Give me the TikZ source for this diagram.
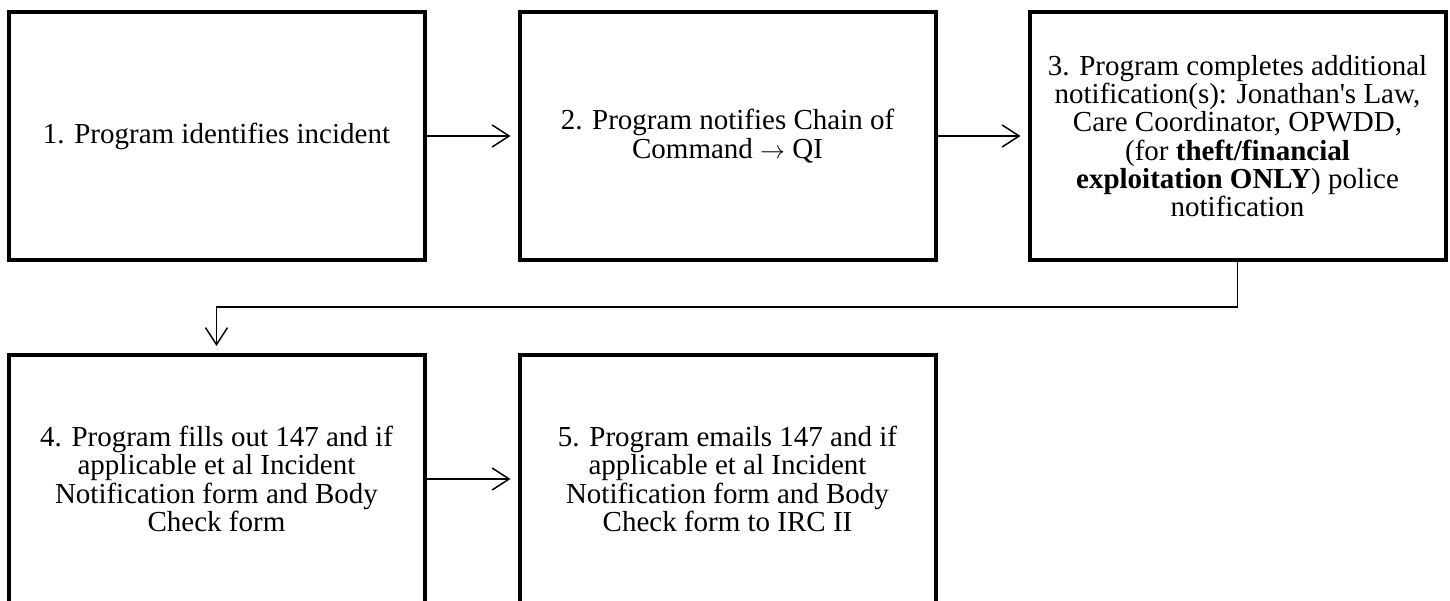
\documentclass[tikz,border=0pt]{standalone}
\usepackage{fontspec}
\setmainfont{Liberation Serif}
\usetikzlibrary{arrows.meta}
\begin{document}
\begin{tikzpicture}[x=1pt,y=-1pt,
  box/.style={draw, line width=4pt, minimum width=416pt, minimum height=248pt,
    align=center, inner sep=0pt, font=\fontsize{29}{28.3}\selectfont},
  conn/.style={line width=1.5pt, -{Straight Barb[length=17pt,width=22pt]}, shorten >=7pt}]
\useasboundingbox (0,0) rectangle (1450,601);
\clip (0,0) rectangle (1450,601);
\node[box] (b1) at (216.5,136) {1. Program identifies incident};
\node[box] (b2) at (727.5,136) {2. Program notifies Chain of\\Command {\fontsize{26}{28.3}\selectfont$\rightarrow$} QI};
\node[box] (b3) at (1237.5,136) {3. Program completes additional\\notification(s): Jonathan\textquotesingle s Law,\\Care Coordinator, OPWDD,\\(for \textbf{theft/financial}\\\textbf{exploitation ONLY}) police\\notification};
\node[box] (b4) at (216.5,479) {4. Program fills out 147 and if\\applicable et al Incident\\Notification form and Body\\Check form};
\node[box] (b5) at (727.5,479) {5. Program emails 147 and if\\applicable et al Incident\\Notification form and Body\\Check form to IRC II};
\coordinate (k1) at (1237.5,307);
\coordinate (k2) at (216.5,307);
\draw[conn] (b1.east) -- (b2.west);
\draw[conn] (b2.east) -- (b3.west);
\draw[conn] (b3.south) -- (k1) -- (k2) -- (b4.north);
\draw[conn] (b4.east) -- (b5.west);
\end{tikzpicture}
\end{document}
